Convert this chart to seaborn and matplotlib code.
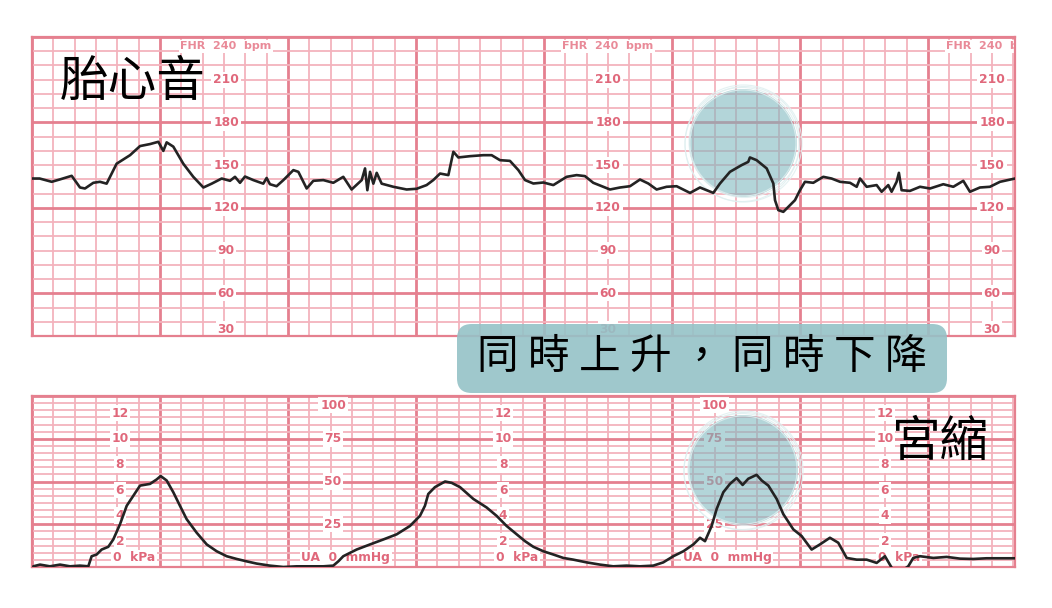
import matplotlib
matplotlib.use('Agg')
import matplotlib.pyplot as plt
import seaborn as sns
from matplotlib.ticker import MultipleLocator
from matplotlib.patches import Ellipse, FancyBboxPatch

# fetal heart rate trace (time in minutes, bpm)
fhr_time = [0.0, 0.06, 0.154, 0.219, 0.31, 0.375, 0.414, 0.479, 0.531, 0.583,
            0.661, 0.766, 0.844, 0.922, 0.987, 1.026, 1.052, 1.104, 1.182, 1.26,
            1.339, 1.404, 1.482, 1.547, 1.586, 1.625, 1.664, 1.729, 1.807, 1.833,
            1.859, 1.911, 1.964, 2.042, 2.081, 2.146, 2.198, 2.276, 2.354, 2.432,
            2.497, 2.576, 2.602, 2.62, 2.641, 2.667, 2.693, 2.732, 2.823, 2.927,
            3.005, 3.083, 3.135, 3.188, 3.253, 3.292, 3.331, 3.422, 3.526, 3.591,
            3.656, 3.734, 3.8, 3.852, 3.917, 3.995, 4.073, 4.177, 4.255, 4.32,
            4.385, 4.516, 4.594, 4.672, 4.75, 4.815, 4.88, 4.958, 5.036, 5.141,
            5.219, 5.323, 5.375, 5.453, 5.544, 5.596, 5.609, 5.661, 5.74, 5.792,
            5.805, 5.831, 5.87, 5.909, 5.961, 6.0, 6.039, 6.104, 6.182, 6.247,
            6.313, 6.391, 6.443, 6.469, 6.521, 6.599, 6.638, 6.69, 6.716, 6.755,
            6.773, 6.794, 6.859, 6.938, 7.016, 7.12, 7.198, 7.276, 7.328, 7.406,
            7.484, 7.563, 7.68]
fhr_bpm = [140.6, 140.6, 138.3, 140, 142.5, 134.3, 133.6, 137.6, 138.3, 137,
           151, 157, 163.4, 164.8, 166.4, 160, 166, 163, 151, 141.8,
           134.3, 137, 140.6, 139, 141.8, 137.6, 142, 139.5, 137, 141,
           136.6, 135.2, 139.5, 146.5, 145.3, 133.6, 139, 139.5, 137.6, 141.8,
           132.9, 139.5, 147.7, 132.4, 145.3, 137, 144.6, 137, 134.8, 132.9,
           133.4, 136, 139.5, 144.1, 143, 159.4, 155.4, 156.3, 157, 157,
           153.5, 153, 146.5, 139.5, 137.1, 137.8, 136, 141.8, 143, 142.3,
           137.6, 132.9, 134.3, 135.2, 139.9, 137.1, 132.9, 134.8, 135.2, 130.5,
           134.3, 130.5, 137.1, 145.3, 150, 152.3, 155.4, 153.5, 147.7, 137.1,
           125.4, 118.4, 117.2, 120.7, 125.4, 132.4, 138.3, 137.6, 141.8, 140.6,
           138.3, 137.6, 134.8, 140.6, 134.8, 136, 131.3, 136, 131.3, 138.3,
           144.6, 132.4, 131.9, 134.8, 133.6, 136.6, 134.8, 139, 131.3, 134.3,
           134.8, 138.3, 140.6]

# uterine activity trace (time in minutes, mmHg)
ua_time = [0.01, 0.0625, 0.14, 0.219, 0.297, 0.375, 0.44, 0.466, 0.505, 0.544,
           0.596, 0.635, 0.6875, 0.74, 0.792, 0.844, 0.922, 0.974, 1.005, 1.052,
           1.104, 1.156, 1.208, 1.286, 1.365, 1.443, 1.521, 1.599, 1.677, 1.755,
           1.859, 1.964, 2.068, 2.198, 2.276, 2.354, 2.393, 2.432, 2.536, 2.641,
           2.745, 2.849, 2.953, 3.031, 3.07, 3.096, 3.148, 3.227, 3.279, 3.344,
           3.448, 3.552, 3.63, 3.708, 3.787, 3.852, 3.917, 3.995, 4.073, 4.151,
           4.229, 4.333, 4.4375, 4.541, 4.646, 4.75, 4.854, 4.932, 5.01, 5.089,
           5.167, 5.219, 5.258, 5.31, 5.349, 5.401, 5.453, 5.505, 5.552, 5.596,
           5.661, 5.701, 5.753, 5.818, 5.87, 5.948, 6.013, 6.091, 6.156, 6.234,
           6.299, 6.365, 6.443, 6.521, 6.599, 6.664, 6.729, 6.8, 6.846, 6.885,
           6.938, 7.042, 7.146, 7.25, 7.354, 7.458, 7.563, 7.68]
ua_mmhg = [0.4, 1.4, 0.4, 1.4, 0.4, 0.8, 0.4, 6.3, 7.3, 10.2,
           11.8, 16.1, 25, 35.8, 41.7, 47.6, 48.6, 51.2, 53.2, 50.6,
           43.7, 35.8, 28, 20.1, 13.2, 9.2, 6.3, 4.7, 3.3, 2,
           0.8, 0, 0.4, 0.4, 0.4, 0.8, 3.3, 6.3, 10.2, 13.2,
           16.1, 19.1, 24, 29.9, 35.8, 42.7, 46.7, 50, 49.2, 46.7,
           39.8, 34.8, 29.9, 24, 19.1, 15.1, 11.8, 9.2, 7.3, 5.3,
           4.3, 2.7, 1.4, 0.4, 0.8, 0.4, 0.8, 2.7, 6.3, 9.2,
           13.2, 17.1, 15.1, 24, 33.9, 43.7, 48.6, 52, 48, 51.6,
           53.9, 50.6, 47.6, 39.8, 30.9, 22, 18.1, 10.2, 13.2, 17.1,
           14.2, 5.3, 4.3, 4.3, 2.4, 6.3, -2, -2, 0.4, 5.3,
           6.3, 5.3, 5.9, 4.9, 4.7, 5.1, 5.1, 5.1]

# printed scale labels on the paper
fhr_labels = [210, 180, 150, 120, 90, 60]
fhr_label_cols = [1.516, 4.5, 7.5]
kpa_labels = [12, 10, 8, 6, 4, 2]
kpa_cols = [0.6875, 3.68, 6.664]
mmhg_labels = [75, 50, 25]
mmhg_cols = [2.352, 5.33]

sns.set_style('white')
plt.rcParams['font.family'] = ['Noto Sans CJK TC', 'DejaVu Sans']

minor_c = '#f3b3bd'
major_c = '#e5808f'
label_c = '#e0687b'
trace_c = '#232323'
W, H = 1052, 608

fig = plt.figure(figsize=(W / 100, H / 100), dpi=100)
ax1 = fig.add_axes([32 / W, 1 - 336 / H, 983 / W, 299 / H])
ax2 = fig.add_axes([32 / W, 1 - 567 / H, 983 / W, 171 / H])


def paper(ax, ymin, ymax, ymajor, yminor):
    ax.set_xlim(0, 7.68)
    ax.set_ylim(ymin, ymax)
    ax.xaxis.set_major_locator(MultipleLocator(1))
    ax.xaxis.set_minor_locator(MultipleLocator(1 / 6))
    ax.yaxis.set_major_locator(MultipleLocator(ymajor))
    ax.yaxis.set_minor_locator(MultipleLocator(yminor))
    ax.grid(which='minor', color=minor_c, lw=1.3)
    ax.grid(which='major', color=major_c, lw=2.0)
    ax.set_axisbelow(True)
    ax.tick_params(which='both', length=0, labelbottom=False, labelleft=False)
    ax.set_xlabel('')
    ax.set_ylabel('')
    for s in ax.spines.values():
        s.set_color(major_c)
        s.set_linewidth(1.6)


def lab(ax, x, y, s, size=8.8, ha='center', color=label_c):
    ax.text(x, y, s, ha=ha, va='center', fontsize=size, fontweight='bold',
            color=color, family='DejaVu Sans', zorder=2, clip_on=True,
            bbox=dict(facecolor='white', edgecolor='none', pad=1.2))


# --- FHR panel
sns.lineplot(x=fhr_time, y=fhr_bpm, ax=ax1, color=trace_c, lw=1.9,
             estimator=None, sort=False, zorder=3)
paper(ax1, 30, 240, 60, 10)
for c in fhr_label_cols:
    for v in fhr_labels:
        lab(ax1, c, v, str(v))
    lab(ax1, c, 34.5, '30')
    lab(ax1, c, 233.5, 'FHR  240  bpm', size=8, color='#e98a98')

# --- UA panel
sns.lineplot(x=ua_time, y=ua_mmhg, ax=ax2, color=trace_c, lw=1.9,
             estimator=None, sort=False, zorder=3)
paper(ax2, 0, 100, 25, 25 / 6)
for c in kpa_cols:
    for v in kpa_labels:
        lab(ax2, c, v * 7.5, str(v))
    lab(ax2, c + 0.11, 5.3, '0  kPa')
for c in mmhg_cols:
    for v in mmhg_labels:
        lab(ax2, c, v, str(v))
    lab(ax2, c, 94.7, '100')
    lab(ax2, c + 0.1, 5.3, 'UA  0  mmHg')

# highlight circles, with a rough hand-drawn rim
for ax, cy, r in [(ax1, 143, 54), (ax2, 470, 55)]:
    ax.add_patch(Ellipse((743 / W, 1 - cy / H), 2 * r / W, 2 * r / H,
                         transform=fig.transFigure, facecolor='#7db8be',
                         alpha=0.58, edgecolor='none', zorder=2.5))
    for dx, dy, dr in [(0, 0, -1), (1.5, -1, 1.5), (-1, 1.5, 3), (0.5, 0.5, 4.5)]:
        ax.add_patch(Ellipse(((743 + dx) / W, 1 - (cy + dy) / H),
                             2 * (r + dr) / W, 2 * (r + dr) / H,
                             transform=fig.transFigure, facecolor='none',
                             edgecolor='#dfeff0', lw=0.8, alpha=0.85, zorder=2.6))

# callout box
fig.add_artist(FancyBboxPatch((457 / W, 1 - 393 / H), 490 / W, 69 / H,
                              boxstyle='round,pad=0,rounding_size=0.014',
                              mutation_aspect=W / H, transform=fig.transFigure,
                              facecolor='#95c2c7', edgecolor='none', alpha=0.9,
                              zorder=4))
for i, ch in enumerate('同時上升，同時下降'):
    fig.text((497.5 + i * 51) / W, 1 - 357 / H, ch, ha='center', va='center',
             fontsize=30, color='black', zorder=5)

fig.text(60 / W, 1 - 82 / H, '胎心音', ha='left', va='center', fontsize=35,
         color='black', zorder=5)
fig.text(940 / W, 1 - 442 / H, '宮縮', ha='center', va='center', fontsize=35,
         color='black', zorder=5)

fig.savefig('out.png', dpi=100)
